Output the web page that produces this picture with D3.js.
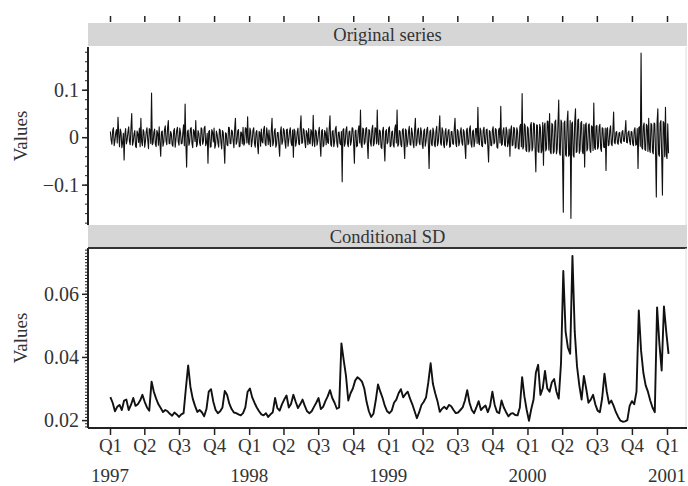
<!DOCTYPE html>
<html>
<head>
<meta charset="utf-8" />
<title>Original series and conditional SD</title>
<script type="text/javascript" src="https://d3js.org/d3.v7.min.js"></script>
<style type="text/css">
    body { margin: 0; background: #fff; }
    svg text { font-family: "Liberation Serif", "Times New Roman", serif; fill: #333; }
    .axis path, .axis line { stroke: #222; }
</style>
</head>
<body>
<svg width="688" height="486"></svg>
<script>
    // panel titles
    var panelTitles = ["Original series", "Conditional SD"];

    // returns, one value every 2 days from 2 Jan 1997
    var retStart = "1997-01-02";
    var retStep = 2;
    var returns = [
        0.012, -0.006, -0.015, 0.014, 0.02, -0.018, -0.008, 0.009, 0.016, -0.012, 0.042, 0.005, -0.02, 0.017, 0.01, -0.022, -0.012, 0.008, -0.048, 0.006,
        0.018, -0.014, -0.006, 0.011, 0.022, -0.009, -0.016, 0.02, 0.05, -0.017, -0.01, 0.007, 0.014, -0.019, -0.022, 0.013, 0.008, -0.011, 0.019, -0.02,
        0.04, -0.01, -0.018, 0.016, 0.011, -0.021, -0.009, 0.012, 0.02, -0.007, -0.024, 0.018, 0.015, -0.013, 0.093, -0.016, -0.012, 0.01, 0.017, -0.015,
        -0.02, 0.014, 0.009, -0.017, 0.022, -0.012, -0.04, 0.011, 0.013, -0.019, -0.011, 0.016, 0.024, -0.008, -0.016, 0.02, 0.035, -0.013, -0.014, 0.012,
        0.007, -0.016, -0.019, 0.013, 0.018, -0.021, -0.005, 0.015, 0.021, -0.01, -0.017, 0.019, 0.01, -0.014, -0.013, 0.009, 0.026, -0.018, 0.07, -0.012,
        -0.063, 0.011, 0.015, -0.017, -0.01, 0.018, 0.02, -0.013, -0.022, 0.016, 0.012, -0.009, 0.035, -0.02, -0.015, 0.014, 0.008, -0.012, -0.018, 0.02,
        0.017, -0.015, -0.009, 0.019, 0.023, -0.018, -0.012, 0.008, -0.055, 0.012, 0.014, -0.021, -0.02, 0.016, 0.011, -0.01, 0.019, -0.023, -0.016, 0.013,
        0.006, -0.012, -0.021, 0.017, 0.015, -0.011, -0.025, 0.014, 0.01, -0.019, -0.055, 0.009, 0.008, -0.016, -0.018, 0.021, 0.02, -0.013, -0.014, 0.015,
        0.012, -0.008, -0.022, 0.018, 0.04, -0.015, -0.01, 0.013, 0.016, -0.02, -0.019, 0.011, 0.009, -0.014, 0.021, -0.017, -0.013, 0.02, 0.018, -0.012,
        0.043, -0.011, -0.016, 0.019, 0.012, -0.02, -0.008, 0.015, 0.02, -0.013, -0.021, 0.01, 0.014, -0.017, -0.035, 0.012, 0.01, -0.019, 0.017, -0.009,
        -0.012, 0.016, 0.023, -0.014, -0.018, 0.02, 0.006, -0.016, 0.015, -0.009, -0.02, 0.013, 0.04, -0.018, -0.011, 0.012, 0.018, -0.021, -0.015, 0.01,
        0.01, -0.017, -0.04, 0.012, 0.022, -0.015, -0.009, 0.018, 0.014, -0.011, -0.023, 0.016, 0.017, -0.019, -0.006, 0.013, 0.02, -0.012, -0.018, 0.015,
        -0.042, 0.017, 0.013, -0.019, -0.01, 0.011, 0.019, -0.014, -0.016, 0.02, 0.045, -0.013, -0.012, 0.018, 0.015, -0.01, -0.022, 0.014, 0.008, -0.016,
        0.018, -0.012, -0.014, 0.016, 0.011, -0.018, 0.046, -0.009, -0.02, 0.015, 0.012, -0.017, -0.008, 0.011, 0.021, -0.014, -0.04, 0.013, 0.016, -0.02,
        -0.017, 0.014, 0.009, -0.016, 0.02, -0.011, -0.013, 0.018, 0.045, -0.015, -0.019, 0.012, 0.014, -0.02, -0.01, 0.017, 0.023, -0.012, -0.021, 0.01,
        0.011, -0.013, -0.016, 0.012, -0.094, 0.015, 0.018, -0.019, -0.012, 0.016, 0.022, -0.014, -0.02, 0.011, 0.013, -0.017, -0.009, 0.02, 0.019, -0.012,
        -0.055, 0.013, 0.015, -0.02, -0.018, 0.014, 0.024, -0.012, 0.057, -0.016, -0.022, 0.019, 0.017, -0.015, -0.011, 0.018, 0.02, -0.013, -0.045, 0.016,
        0.014, -0.011, -0.019, 0.017, 0.025, -0.018, -0.013, 0.02, 0.018, -0.014, 0.057, -0.01, -0.016, 0.015, 0.012, -0.021, -0.024, 0.013, 0.021, -0.017,
        -0.05, 0.012, 0.016, -0.014, -0.01, 0.019, 0.022, -0.02, -0.018, 0.011, 0.013, -0.016, -0.021, 0.018, 0.026, -0.012, 0.057, -0.019, -0.015, 0.014,
        0.012, -0.016, -0.02, 0.015, 0.018, -0.013, -0.045, 0.017, 0.014, -0.02, -0.011, 0.012, 0.023, -0.015, -0.017, 0.019, 0.009, -0.012, -0.022, 0.016,
        0.04, -0.018, -0.013, 0.014, 0.019, -0.011, -0.016, 0.02, 0.011, -0.015, -0.024, 0.013, 0.017, -0.019, -0.009, 0.016, 0.021, -0.013, -0.066, 0.012,
        0.015, -0.014, -0.018, 0.019, 0.012, -0.016, -0.02, 0.013, 0.023, -0.018, -0.011, 0.015, 0.045, -0.012, -0.017, 0.02, 0.014, -0.015, -0.022, 0.011,
        0.018, -0.017, -0.008, 0.013, 0.016, -0.021, -0.019, 0.012, 0.012, -0.014, -0.015, 0.018, 0.04, -0.013, -0.02, 0.016, 0.013, -0.018, -0.01, 0.012,
        0.02, -0.012, -0.017, 0.016, 0.011, -0.019, -0.045, 0.014, 0.019, -0.016, -0.013, 0.017, 0.024, -0.014, -0.021, 0.012, 0.015, -0.02, -0.009, 0.018,
        0.018, -0.013, 0.063, -0.011, -0.016, 0.019, 0.013, -0.018, -0.02, 0.015, 0.021, -0.012, -0.014, 0.016, 0.017, -0.02, -0.052, 0.014, 0.012, -0.017,
        -0.018, 0.015, 0.022, -0.014, -0.011, 0.018, 0.016, -0.021, -0.023, 0.013, 0.019, -0.012, 0.065, -0.017, -0.015, 0.014, 0.02, -0.016, -0.019, 0.021,
        0.014, -0.02, -0.012, 0.017, -0.04, 0.015, 0.024, -0.018, -0.016, 0.021, 0.018, -0.023, -0.021, 0.02, 0.013, -0.024, -0.025, 0.022, 0.027, -0.02,
        0.092, -0.025, -0.02, 0.028, 0.024, -0.027, -0.03, 0.022, 0.018, -0.031, -0.026, 0.025, 0.031, -0.029, -0.022, 0.03, 0.028, -0.024, -0.073, 0.026,
        0.025, -0.03, -0.032, 0.027, 0.02, -0.033, -0.028, 0.031, -0.059, 0.024, 0.03, -0.029, -0.024, 0.034, 0.033, -0.027, 0.05, -0.031, -0.035, 0.029,
        0.026, -0.034, -0.03, 0.032, 0.036, -0.035, -0.025, 0.029, 0.078, -0.033, -0.038, 0.036, 0.03, -0.045, -0.158, 0.03, 0.034, -0.037, -0.04, 0.033,
        0.055, -0.04, -0.036, 0.035, -0.171, 0.028, 0.032, -0.038, -0.042, 0.034, 0.06, -0.032, -0.03, 0.036, 0.038, -0.034, -0.027, 0.03, 0.033, -0.031,
        -0.035, 0.027, -0.063, 0.025, 0.03, -0.029, -0.024, 0.026, 0.028, -0.027, -0.032, 0.024, 0.022, -0.028, 0.072, -0.022, -0.026, 0.023, 0.025, -0.025,
        -0.02, 0.022, 0.027, -0.024, -0.03, 0.02, 0.018, -0.021, -0.022, 0.019, -0.07, 0.017, 0.02, -0.018, -0.016, 0.015, 0.024, -0.014, -0.018, 0.013,
        0.053, -0.011, -0.014, 0.01, 0.012, -0.012, -0.015, 0.009, 0.01, -0.01, -0.013, 0.011, 0.014, -0.008, -0.009, 0.012, 0.035, -0.011, -0.012, 0.01,
        0.013, -0.009, -0.016, 0.012, 0.011, -0.014, -0.018, 0.015, 0.02, -0.017, -0.015, 0.018, -0.066, 0.02, 0.022, -0.019, 0.177, -0.022, -0.025, 0.024,
        0.03, -0.026, -0.028, 0.027, 0.024, -0.03, 0.04, -0.025, -0.032, 0.029, 0.026, -0.031, -0.035, 0.03, 0.028, -0.033, -0.126, 0.032, 0.06, -0.036,
        -0.04, 0.03, 0.035, -0.038, -0.122, 0.033, 0.03, -0.041, 0.063, -0.037, -0.045, 0.028, -0.034
    ];

    // conditional standard deviation, one value every 6 days from 2 Jan 1997
    var sdStart = "1997-01-02";
    var sdStep = 6;
    var condSD = [
        0.0273, 0.0255, 0.0228, 0.0242, 0.0248, 0.0232, 0.0262, 0.0265, 0.0232, 0.0248,
        0.0270, 0.0245, 0.0250, 0.0262, 0.0280, 0.0258, 0.0240, 0.0230, 0.0322, 0.0290,
        0.0268, 0.0250, 0.0238, 0.0226, 0.0232, 0.0228, 0.0220, 0.0214, 0.0224, 0.0218,
        0.0210, 0.0218, 0.0222, 0.0300, 0.0373, 0.0305, 0.0268, 0.0245, 0.0226, 0.0232,
        0.0225, 0.0212, 0.0235, 0.0290, 0.0298, 0.0258, 0.0232, 0.0222, 0.0228, 0.0240,
        0.0292, 0.0280, 0.0252, 0.0235, 0.0224, 0.0222, 0.0218, 0.0215, 0.0222, 0.0240,
        0.0290, 0.0300, 0.0272, 0.0255, 0.0240, 0.0228, 0.0218, 0.0215, 0.0222, 0.0210,
        0.0218, 0.0225, 0.0270, 0.0238, 0.0230, 0.0250, 0.0265, 0.0278, 0.0240, 0.0252,
        0.0280, 0.0258, 0.0238, 0.0250, 0.0265, 0.0245, 0.0228, 0.0222, 0.0228, 0.0242,
        0.0255, 0.0270, 0.0235, 0.0242, 0.0260, 0.0275, 0.0295, 0.0270, 0.0255, 0.0236,
        0.0240, 0.0443, 0.0390, 0.0340, 0.0262, 0.0285, 0.0300, 0.0325, 0.0336, 0.0330,
        0.0322, 0.0300, 0.0258, 0.0228, 0.0210, 0.0220, 0.0262, 0.0313, 0.0290, 0.0270,
        0.0245, 0.0228, 0.0222, 0.0230, 0.0255, 0.0265, 0.0285, 0.0298, 0.0272, 0.0282,
        0.0290, 0.0268, 0.0250, 0.0228, 0.0206, 0.0225, 0.0248, 0.0258, 0.0272, 0.0320,
        0.0380, 0.0315, 0.0285, 0.0260, 0.0226, 0.0236, 0.0242, 0.0235, 0.0248, 0.0244,
        0.0232, 0.0222, 0.0224, 0.0232, 0.0240, 0.0262, 0.0295, 0.0255, 0.0232, 0.0222,
        0.0240, 0.0260, 0.0232, 0.0240, 0.0246, 0.0225, 0.0245, 0.0290, 0.0248, 0.0226,
        0.0222, 0.0262, 0.0240, 0.0225, 0.0212, 0.0220, 0.0222, 0.0216, 0.0215, 0.0240,
        0.0336, 0.0275, 0.0232, 0.0198, 0.0235, 0.0265, 0.0350, 0.0375, 0.0280, 0.0300,
        0.0356, 0.0300, 0.0290, 0.0320, 0.0330, 0.0290, 0.0268, 0.0380, 0.0672, 0.0480,
        0.0430, 0.0410, 0.0720, 0.0480, 0.0370, 0.0310, 0.0265, 0.0340, 0.0300, 0.0255,
        0.0265, 0.0280, 0.0250, 0.0230, 0.0225, 0.0270, 0.0347, 0.0290, 0.0252, 0.0262,
        0.0245, 0.0225, 0.0210, 0.0198, 0.0195, 0.0196, 0.0200, 0.0245, 0.0260, 0.0250,
        0.0290, 0.0547, 0.0420, 0.0350, 0.0310, 0.0290, 0.0262, 0.0240, 0.0225, 0.0557,
        0.0443, 0.0357, 0.0560, 0.0480, 0.0410
    ];

    // y axis tick labels
    var retTicks = [-0.1, 0, 0.1];
    var sdTicks = [0.02, 0.04, 0.06];

    var svg = d3.select("svg");
    var W = 688, H = 486;
    svg.append("rect").attr("width", W).attr("height", H).attr("fill", "#fff");

    var left = 88, right = 687;
    var parseDate = d3.timeParse("%Y-%m-%d");

    // time scale: Q1 1997 .. Q1 2001
    var x = d3.scaleTime()
        .domain([new Date(1997, 0, 1), new Date(2001, 0, 1)])
        .range([110, 667]);
    var quarters = d3.timeMonth.range(new Date(1997, 0, 1), new Date(2001, 0, 2), 3);

    var retData = returns.map(function(v, i) {
        return { date: d3.timeDay.offset(parseDate(retStart), i * retStep), value: v };
    });
    var sdData = condSD.map(function(v, i) {
        return { date: d3.timeDay.offset(parseDate(sdStart), i * sdStep), value: v };
    });

    var panels = [
        { title: panelTitles[0], stripTop: 23, top: 47, bottom: 225,
          domain: [-0.185, 0.19], ticks: retTicks, minor: d3.range(-0.18, 0.181, 0.02),
          fmt: function(d) { return d === 0 ? "0" : d3.format(".1f")(d).replace("-", "\u2212"); },
          data: retData, width: 1.1, topLine: false },
        { title: panelTitles[1], stripTop: 225, top: 248, bottom: 428,
          domain: [0.0175, 0.0745], ticks: sdTicks, minor: d3.range(0.018, 0.0745, 0.001),
          fmt: d3.format(".2f"),
          data: sdData, width: 1.9, topLine: true }
    ];

    panels.forEach(function(p) {
        var y = d3.scaleLinear().domain(p.domain).range([p.bottom, p.top]);

        // strip
        svg.append("rect")
            .attr("x", left).attr("y", p.stripTop)
            .attr("width", right - left).attr("height", p.top - p.stripTop - 1)
            .attr("fill", "#d6d6d6");
        svg.append("text")
            .attr("x", (left + right) / 2).attr("y", (p.stripTop + p.top) / 2)
            .attr("dy", "0.35em")
            .attr("text-anchor", "middle")
            .style("font-size", "18.5px")
            .text(p.title);

        if (p.topLine) {
            svg.append("line")
                .attr("x1", left).attr("x2", right)
                .attr("y1", p.top).attr("y2", p.top)
                .attr("stroke", "#333").attr("stroke-width", 2);
        }
        // faint right border
        svg.append("line")
            .attr("x1", right - 1).attr("x2", right - 1)
            .attr("y1", p.top).attr("y2", p.bottom)
            .attr("stroke", "#ddd");

        // clip for series
        var clipId = "clip" + p.top;
        svg.append("clipPath").attr("id", clipId)
            .append("rect")
            .attr("x", left).attr("y", p.top)
            .attr("width", right - left).attr("height", p.bottom - p.top);

        var line = d3.line()
            .x(function(d) { return x(d.date); })
            .y(function(d) { return y(d.value); });

        svg.append("path")
            .datum(p.data)
            .attr("clip-path", "url(#" + clipId + ")")
            .attr("fill", "none")
            .attr("stroke", "#111")
            .attr("stroke-width", p.width)
            .attr("stroke-linejoin", "round")
            .attr("d", line);

        // minor ticks
        svg.append("g")
            .attr("class", "axis")
            .attr("transform", "translate(" + left + ",0)")
            .call(d3.axisLeft(y).tickValues(p.minor).tickSize(3).tickFormat(""))
            .call(function(g) { g.select(".domain").remove(); });

        // major ticks and labels
        var ay = svg.append("g")
            .attr("class", "axis")
            .attr("transform", "translate(" + left + ",0)")
            .call(d3.axisLeft(y).tickValues(p.ticks).tickSize(6).tickPadding(3).tickFormat(p.fmt).tickSizeOuter(0));
        ay.select(".domain").attr("stroke-width", 2).attr("d", "M0," + p.top + "V" + p.bottom);
        ay.selectAll(".tick line").attr("stroke-width", 1.5);
        ay.selectAll("text").style("font-size", "20px").attr("fill", "#3a3a48");

        svg.append("text")
            .attr("transform", "translate(20," + ((p.top + p.bottom) / 2) + ") rotate(-90)")
            .attr("text-anchor", "middle")
            .attr("dy", "0.35em")
            .style("font-size", "19px")
            .text("Values");
    });

    // top tick marks (no labels)
    svg.append("g")
        .attr("class", "axis")
        .attr("transform", "translate(0,22)")
        .call(d3.axisTop(x).tickValues(quarters).tickSize(6).tickFormat(""))
        .call(function(g) { g.select(".domain").remove(); })
        .selectAll("line").attr("stroke-width", 1.5);

    // bottom axis with quarter labels
    var ax = svg.append("g")
        .attr("class", "axis")
        .attr("transform", "translate(0,428)")
        .call(d3.axisBottom(x).tickValues(quarters).tickSize(7).tickPadding(4)
            .tickFormat(function(d) { return "Q" + (Math.floor(d.getMonth() / 3) + 1); }));
    ax.select(".domain").attr("stroke-width", 2).attr("d", "M" + left + ",0H" + right);
    ax.selectAll(".tick line").attr("stroke-width", 1.5);
    ax.selectAll("text").style("font-size", "19px").attr("fill", "#3a3a48");

    // year labels under Q1 ticks
    svg.append("g")
        .selectAll("text")
        .data(quarters.filter(function(d) { return d.getMonth() === 0; }))
        .enter()
        .append("text")
        .attr("x", function(d) { return x(d); })
        .attr("y", 482)
        .attr("text-anchor", "middle")
        .style("font-size", "19px")
        .attr("fill", "#3a3a48")
        .text(function(d) { return d.getFullYear(); });
</script>
</body>
</html>
